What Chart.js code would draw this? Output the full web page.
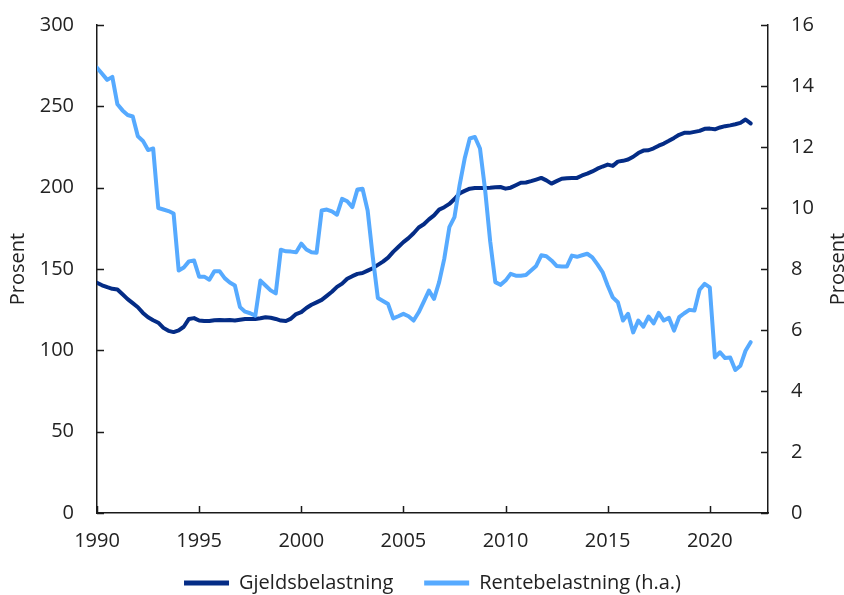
<!DOCTYPE html>
<html>
<head>
<meta charset="utf-8">
<script src="https://cdn.jsdelivr.net/npm/chart.js@4/dist/chart.umd.min.js"></script>
<style>
  html, body { margin: 0; padding: 0; background: #ffffff; }
  #wrap { width: 844px; height: 595px; position: relative; }
</style>
</head>
<body>
<div id="wrap"><canvas id="c" width="844" height="595"></canvas></div>
<script>
// Quarterly data, 1990Q1 - 2022Q1
const startYear = 1990;
const seriesNames = ["Gjeldsbelastning", "Rentebelastning (h.a.)"];

// Gjeldsbelastning (left axis, prosent)
const gjeld = [
  141.5, 140.0, 138.8, 137.8,   // 1990
  137.4, 134.5, 131.5, 129.0,   // 1991
  126.5, 123.0, 120.3, 118.5,   // 1992
  117.0, 113.8, 112.0, 111.2,   // 1993
  112.3, 114.5, 119.3, 119.8,   // 1994
  118.3, 118.0, 118.0, 118.5,   // 1995
  118.7, 118.5, 118.6, 118.4,   // 1996
  118.8, 119.2, 119.2, 119.3,   // 1997
  119.7, 120.3, 120.0, 119.3,   // 1998
  118.3, 118.0, 119.5, 122.3,   // 1999
  123.5, 126.0, 128.0, 129.5,   // 2000
  131.0, 133.5, 136.0, 139.0,   // 2001
  141.0, 144.0, 145.6, 147.0,   // 2002
  147.5, 149.0, 150.5, 152.5,   // 2003
  154.5, 157.0, 160.5, 163.5,   // 2004
  166.5, 169.0, 172.0, 175.5,   // 2005
  177.5, 180.5, 183.0, 186.5,   // 2006
  188.0, 190.0, 193.0, 196.5,   // 2007
  198.0, 199.4, 199.8, 199.8,   // 2008
  199.8, 199.9, 200.2, 200.4,   // 2009
  199.4, 200.0, 201.5, 203.0,   // 2010
  203.2, 204.0, 205.0, 206.0,   // 2011
  204.5, 202.5, 204.0, 205.5,   // 2012
  205.8, 205.9, 206.0, 207.5,   // 2013
  208.6, 210.0, 211.7, 213.0,   // 2014
  214.2, 213.4, 216.0, 216.5,   // 2015
  217.3, 219.0, 221.3, 222.8,   // 2016
  223.0, 224.2, 225.8, 227.1,   // 2017
  228.8, 230.6, 232.5, 233.7,   // 2018
  233.7, 234.3, 234.9, 236.2,   // 2019
  236.3, 235.9, 237.0, 237.8,   // 2020
  238.3, 239.0, 239.8, 241.9,   // 2021
  239.5                          // 2022
];

// Rentebelastning (right axis, prosent)
const rente = [
  14.6, 14.4, 14.2, 14.3,       // 1990
  13.4, 13.2, 13.05, 13.0,      // 1991
  12.35, 12.2, 11.9, 11.95,     // 1992
  10.0, 9.95, 9.9, 9.82,        // 1993
  7.95, 8.05, 8.25, 8.28,       // 1994
  7.75, 7.75, 7.65, 7.93,       // 1995
  7.93, 7.7, 7.56, 7.46,        // 1996
  6.75, 6.6, 6.55, 6.47,        // 1997
  7.62, 7.46, 7.3, 7.2,         // 1998
  8.63, 8.58, 8.57, 8.55,       // 1999
  8.83, 8.64, 8.55, 8.53,       // 2000
  9.92, 9.95, 9.89, 9.78,       // 2001
  10.3, 10.22, 10.03, 10.61,    // 2002
  10.63, 9.92, 8.4, 7.05,       // 2003
  6.95, 6.85, 6.38, 6.45,       // 2004
  6.53, 6.45, 6.31, 6.58,       // 2005
  6.93, 7.29, 7.02, 7.57,       // 2006
  8.33, 9.37, 9.7, 10.74,       // 2007
  11.62, 12.28, 12.33, 11.95,   // 2008
  10.6, 8.9, 7.57, 7.48,        // 2009
  7.62, 7.84, 7.78, 7.78,       // 2010
  7.8, 7.95, 8.1, 8.45,         // 2011
  8.42, 8.28, 8.1, 8.08,        // 2012
  8.08, 8.44, 8.4, 8.45,        // 2013
  8.5, 8.38, 8.15, 7.9,         // 2014
  7.46, 7.07, 6.91, 6.31,       // 2015
  6.53, 5.92, 6.31, 6.11,       // 2016
  6.44, 6.22, 6.56, 6.31,       // 2017
  6.4, 5.98, 6.42, 6.55,        // 2018
  6.66, 6.64, 7.32, 7.51,       // 2019
  7.4, 5.1, 5.27, 5.08,         // 2020
  5.1, 4.69, 4.83, 5.32,        // 2021
  5.6                            // 2022
];

// Category positions: quarters as decimal years
const quarters = [];
for (let i = 0; i < gjeld.length; i++) {
  quarters.push(startYear + Math.floor(i / 4) + (i % 4) / 4);
}

const xTicks = [1990, 1995, 2000, 2005, 2010, 2015, 2020];
const leftTicks = [0, 50, 100, 150, 200, 250, 300];
const rightTicks = [0, 2, 4, 6, 8, 10, 12, 14, 16];
const axisTitle = "Prosent";

const darkBlue = "#042C86";
const lightBlue = "#56AAFF";
const axisColor = "#1a1a1a";
const textColor = "#222222";
const FONT = "'Open Sans', 'Noto Sans', sans-serif";
const FS = 20;

const inwardTicks = {
  id: "inwardTicks",
  afterDraw(chart) {
    const ctx = chart.ctx;
    const area = chart.chartArea;
    const x = chart.scales.x, yL = chart.scales.yL, yR = chart.scales.yR;
    const len = 7;
    ctx.save();
    ctx.strokeStyle = axisColor;
    ctx.lineWidth = 1.5;
    ctx.beginPath();
    xTicks.forEach(v => {
      const px = Math.round(x.getPixelForValue(v)) + 0.5;
      ctx.moveTo(px, area.bottom);
      ctx.lineTo(px, area.bottom - len);
    });
    leftTicks.forEach(v => {
      const py = Math.round(yL.getPixelForValue(v)) + 0.5;
      ctx.moveTo(area.left, py);
      ctx.lineTo(area.left + len, py);
    });
    rightTicks.forEach(v => {
      const py = Math.round(yR.getPixelForValue(v)) + 0.5;
      ctx.moveTo(area.right, py);
      ctx.lineTo(area.right - len, py);
    });
    ctx.stroke();
    // axis titles, both reading bottom-to-top
    ctx.fillStyle = textColor;
    ctx.font = FS + "px " + FONT;
    ctx.textAlign = "center";
    ctx.textBaseline = "middle";
    const cy = (area.top + area.bottom) / 2;
    [[18, cy], [838, cy]].forEach(([tx, ty]) => {
      ctx.save();
      ctx.translate(tx, ty);
      ctx.rotate(-Math.PI / 2);
      ctx.fillText(axisTitle, 0, 0);
      ctx.restore();
    });
    ctx.restore();
  }
};

const tickSetter = (list) => (scale) => { scale.ticks = list.map(v => ({ value: v })); };
const fitY = (w) => (s) => { s.width = w; s.paddingTop = 0; s.paddingBottom = 0; };

new Chart(document.getElementById("c"), {
  type: "line",
  data: {
    datasets: [
      {
        label: seriesNames[0],
        data: quarters.map((q, i) => ({ x: q, y: gjeld[i] })),
        yAxisID: "yL",
        borderColor: darkBlue,
        backgroundColor: darkBlue,
        borderWidth: 4,
        pointRadius: 0,
        tension: 0,
        borderJoinStyle: "round",
        borderCapStyle: "round",
        order: 2
      },
      {
        label: seriesNames[1],
        data: quarters.map((q, i) => ({ x: q, y: rente[i] })),
        yAxisID: "yR",
        borderColor: lightBlue,
        backgroundColor: lightBlue,
        borderWidth: 4,
        pointRadius: 0,
        tension: 0,
        borderJoinStyle: "round",
        borderCapStyle: "round",
        order: 1
      }
    ]
  },
  options: {
    responsive: false,
    animation: false,
    devicePixelRatio: 1,
    layout: { padding: { top: 25, left: 0, right: 0, bottom: -8 } },
    plugins: {
      tooltip: { enabled: false },
      legend: {
        position: "bottom",
        fullSize: false,
        labels: {
          color: textColor,
          font: { family: FONT, size: FS },
          boxWidth: 45,
          boxHeight: 5,
          padding: 10,
          sort: (a, b) => a.datasetIndex - b.datasetIndex,
          generateLabels: (chart) => {
            const items = Chart.defaults.plugins.legend.labels.generateLabels(chart);
            items.forEach(it => {
              it.lineWidth = 0;
              if (it.datasetIndex === 0) it.text = it.text + "    ";
            });
            return items;
          }
        }
      }
    },
    scales: {
      x: {
        type: "linear",
        min: 1990,
        max: 2022.85,
        afterBuildTicks: tickSetter(xTicks),
        afterFit: (s) => { s.height = 50; s.paddingLeft = 0; s.paddingRight = 0; },
        grid: { display: false, drawTicks: false },
        border: { display: true, color: axisColor, width: 1.5 },
        ticks: {
          color: textColor,
          font: { family: FONT, size: FS },
          padding: 16,
          maxRotation: 0,
          autoSkip: false,
          callback: (v) => String(v)
        }
      },
      yL: {
        position: "left",
        min: 0,
        max: 300,
        afterBuildTicks: tickSetter(leftTicks),
        afterFit: fitY(97),
        grid: { display: false, drawTicks: false },
        border: { display: true, color: axisColor, width: 1.5 },
        ticks: {
          color: textColor,
          font: { family: FONT, size: FS },
          padding: 23,
          callback: (v) => String(v)
        }
      },
      yR: {
        position: "right",
        min: 0,
        max: 16,
        afterBuildTicks: tickSetter(rightTicks),
        afterFit: fitY(76),
        grid: { display: false, drawTicks: false },
        border: { display: true, color: axisColor, width: 1.5 },
        ticks: {
          color: textColor,
          font: { family: FONT, size: FS },
          padding: 23,
          callback: (v) => String(v)
        }
      }
    }
  },
  plugins: [inwardTicks]
});
</script>
</body>
</html>
